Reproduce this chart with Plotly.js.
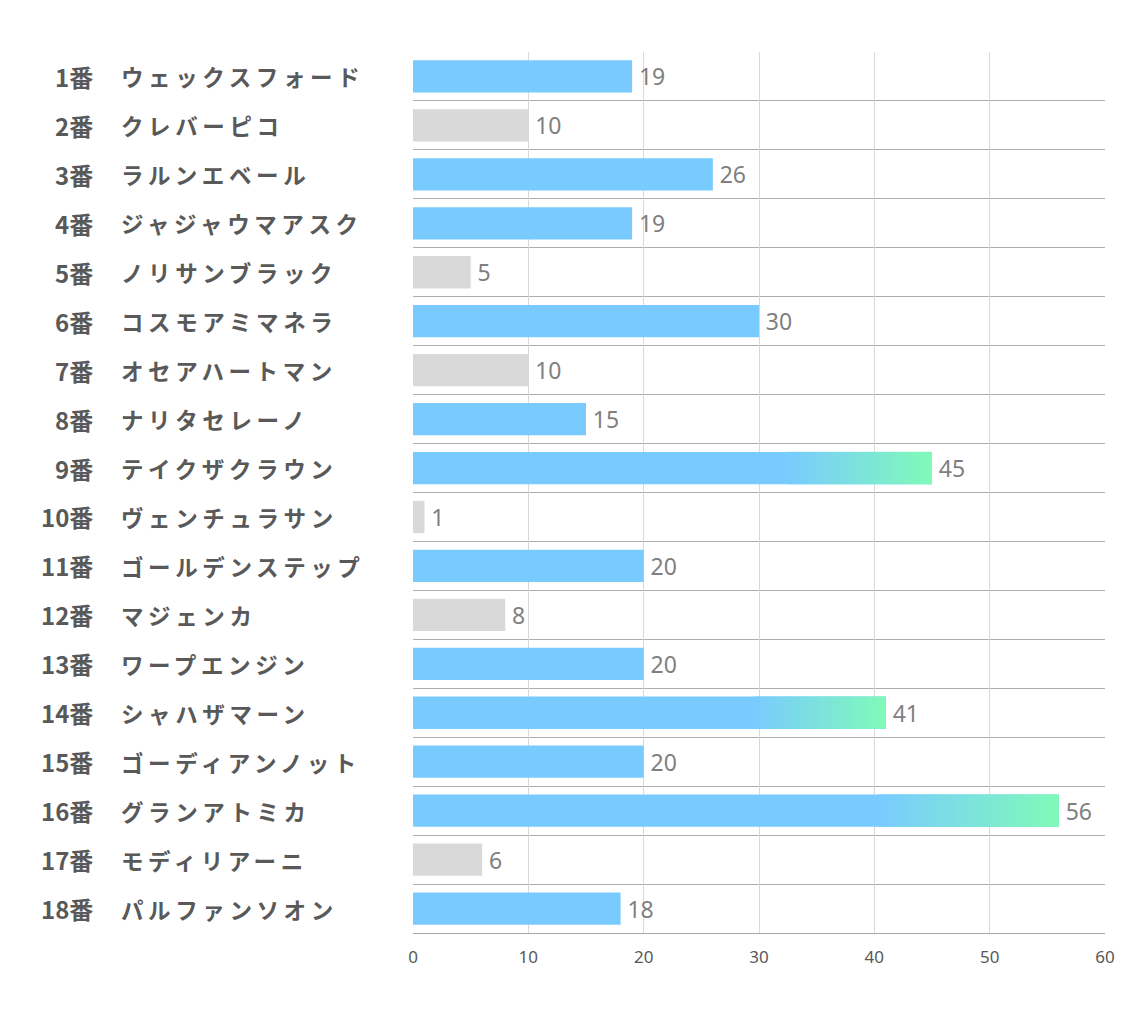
<!DOCTYPE html>
<html><head><meta charset="utf-8">
<script src="https://cdn.plot.ly/plotly-3.0.1.min.js"></script>
<style>html,body{margin:0;padding:0;background:#fff}#chart{width:1134px;height:1020px}</style>
</head><body><div id="chart"></div>
<script>
const horseNo = [1,2,3,4,5,6,7,8,9,10,11,12,13,14,15,16,17,18];
const horseNames = ['ウェックスフォード','クレバーピコ','ラルンエベール','ジャジャウマアスク','ノリサンブラック','コスモアミマネラ','オセアハートマン','ナリタセレーノ','テイクザクラウン','ヴェンチュラサン','ゴールデンステップ','マジェンカ','ワープエンジン','シャハザマーン','ゴーディアンノット','グランアトミカ','モディリアーニ','パルファンソオン'];
const values = [19,10,26,19,5,30,10,15,45,1,20,8,20,41,20,56,6,18];

const BLUE = [121,203,255], GREEN = [128,250,184], GRAY = '#D9D9D9';
const rgb = c => `rgb(${c.map(Math.round).join(',')})`;
const pos = horseNo.map((n,i)=>i+1);
const BW = 0.66;

const base = {
  type:'bar', orientation:'h', y:pos, x:values, width:BW,
  marker:{color: values.map(v => v > 10 ? rgb(BLUE) : GRAY), line:{width:0}},
  text: values.map(v => '\u2009' + v), textposition:'outside', cliponaxis:false,
  textfont:{family:'Noto Sans, Open Sans, sans-serif', size:23, color:'#7F7F7F'},
  hoverinfo:'skip'
};

// gradient overlay for the top values
const N = 40, gStart = 0.72;
const gy=[], gx=[], gb=[], gc=[];
values.forEach((v,i)=>{
  if (v < 40) return;
  const seg = v*(1-gStart)/N;
  for (let k=0;k<N;k++){
    const t = (k+0.5)/N;
    gy.push(i+1);
    gb.push(v*gStart + k*seg);
    gx.push(k===N-1 ? seg : seg*1.6);
    gc.push(rgb(BLUE.map((b,j)=>b+(GREEN[j]-b)*t)));
  }
});
const grad = {type:'bar', orientation:'h', y:gy, x:gx, base:gb, width:BW,
  marker:{color:gc, line:{width:0}}, hoverinfo:'skip', showlegend:false};

const L = 413, R = 1105, W = R - L;
const ann = [];
horseNo.forEach((n,i)=>{
  ann.push({xref:'paper', yref:'y', x:(95-L)/W, y:i+1, xanchor:'right', yanchor:'middle', showarrow:false,
    text:n+'番', font:{family:'Noto Sans CJK JP', size:24, color:'#595959', weight:'bold'}});
  ann.push({xref:'paper', yref:'y', x:(119-L)/W, y:i+1, xanchor:'left', yanchor:'middle', showarrow:false,
    text:'<span style="letter-spacing:4.6px">'+horseNames[i]+'</span>',
    font:{family:'Noto Sans CJK JP', size:22.5, color:'#595959', weight:'bold'}});
});

const layout = {
  width:1134, height:1020, margin:{l:L, r:1134-R, t:52, b:87},
  paper_bgcolor:'#fff', plot_bgcolor:'#fff', showlegend:false, barmode:'overlay', hovermode:false,
  xaxis:{range:[0,60], dtick:10, tick0:0, showgrid:true, gridcolor:'#D9D9D9', gridwidth:1,
    zeroline:false, showline:true, linecolor:'#A6A6A6', linewidth:1, ticks:'', ticklen:0,
    ticklabelstandoff:9,
    tickfont:{family:'Noto Sans, sans-serif', size:17, color:'#595959'}, fixedrange:true},
  yaxis:{range:[18.5,0.5], showticklabels:false, showgrid:false, zeroline:false, ticks:'',
    tickmode:'array', tickvals:pos,
    minor:{tick0:0.5, dtick:1, showgrid:true, gridcolor:'#ADADAD', gridwidth:1, ticks:''},
    fixedrange:true},
  annotations: ann
};

Plotly.newPlot('chart', [base, grad], layout, {staticPlot:true, displayModeBar:false});
</script></body></html>
